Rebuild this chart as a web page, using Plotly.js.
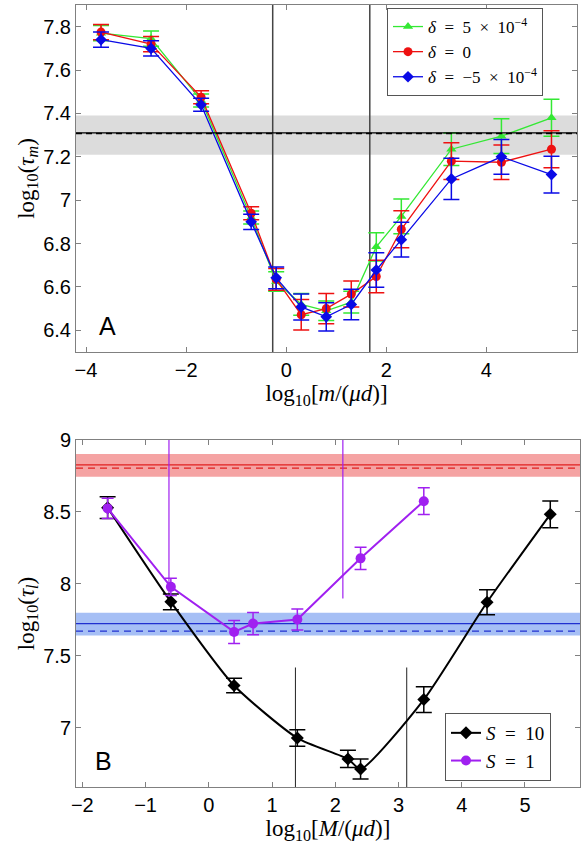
<!DOCTYPE html>
<html>
<head>
<meta charset="utf-8">
<script src="https://cdn.plot.ly/plotly-3.0.1.min.js"></script>
<style>html,body{margin:0;padding:0;background:#fff;}#plot{width:586px;height:848px;}</style>
</head>
<body>
<div id="plot"></div>
<script>
// ---------- Panel A data ----------
const xA = [-3.7, -2.7, -1.7, -0.7, -0.2, 0.3, 0.8, 1.3, 1.8, 2.3, 3.3, 4.3, 5.3];
const greenA = [7.77, 7.745, 7.46, 6.92, 6.625, 6.52, 6.49, 6.53, 6.785, 6.925, 7.235, 7.295, 7.38];
const greenErrA = [0.035, 0.035, 0.03, 0.03, 0.045, 0.05, 0.045, 0.05, 0.065, 0.08, 0.075, 0.08, 0.085];
const redA = [7.775, 7.72, 7.475, 6.94, 6.635, 6.472, 6.50, 6.567, 6.648, 6.866, 7.18, 7.175, 7.235];
const redErrA = [0.035, 0.035, 0.03, 0.03, 0.05, 0.07, 0.07, 0.06, 0.075, 0.085, 0.085, 0.08, 0.085];
const blueA = [7.74, 7.70, 7.44, 6.90, 6.642, 6.508, 6.462, 6.519, 6.678, 6.818, 7.098, 7.2, 7.118];
const blueErrA = [0.035, 0.035, 0.03, 0.035, 0.05, 0.06, 0.065, 0.07, 0.08, 0.08, 0.095, 0.08, 0.085];
const vlinesA = [-0.27, 1.67];
const meanA = 7.31;
const bandA = [7.21, 7.39];
const namesA = ['<i>δ</i>\u2002=\u20025\u2002×\u200210<sup>−4</sup>', '<i>δ</i>\u2002=\u20020', '<i>δ</i>\u2002=\u2002−5\u2002×\u200210<sup>−4</sup>'];

// ---------- Panel B data ----------
const xB10 = [-1.6, -0.6, 0.4, 1.4, 2.2, 2.4, 3.4, 4.4, 5.4];
const yB10 = [8.53, 7.876, 7.295, 6.93, 6.785, 6.715, 7.197, 7.873, 8.484];
const eB10 = [0.075, 0.055, 0.05, 0.057, 0.06, 0.07, 0.09, 0.087, 0.093];
const xB1 = [-1.6, -0.6, 0.4, 0.7, 1.4, 2.4, 3.4];
const yB1 = [8.525, 7.98, 7.667, 7.725, 7.753, 8.178, 8.575];
const eB1 = [0.07, 0.06, 0.08, 0.077, 0.073, 0.077, 0.093];
const redLineB = 8.827, redDashB = 8.804, redBandB = [8.744, 8.902];
const blueLineB = 7.725, blueDashB = 7.672, blueBandB = [7.642, 7.80];
const purpleVB = [-0.63, 2.12], purpleVSpan = [7.9, 9.0];
const blackVB = [1.37, 3.13], blackVSpan = [6.5, 7.42];
const namesB = ['<i>S</i>\u2002=\u200210', '<i>S</i>\u2002=\u20021'];

const serif = 'Liberation Serif, DejaVu Serif, serif';
const sans = 'Liberation Sans, Arial, sans-serif';

function tr(x, y, err, color, symbol, name, xa, ya, leg, msize, lw, cap, shape) {
  return {
    x: x, y: y, name: name, type: 'scatter', mode: 'lines+markers',
    xaxis: xa, yaxis: ya, legend: leg,
    line: {color: color, width: lw, shape: shape || 'linear', smoothing: 0.6},
    marker: {color: color, symbol: symbol, size: msize},
    error_y: {type: 'data', array: err, visible: true, color: color, thickness: 1.5, width: cap}
  };
}

const data = [
  tr(xA, greenA, greenErrA, '#33e833', 'triangle-up', namesA[0], 'x', 'y', 'legend', 9, 1.3, 8),
  tr(xA, redA, redErrA, '#ee1111', 'circle', namesA[1], 'x', 'y', 'legend', 9, 1.3, 8),
  tr(xA, blueA, blueErrA, '#0a0ae6', 'diamond', namesA[2], 'x', 'y', 'legend', 9, 1.3, 8),
  tr(xB10, yB10, eB10, '#000000', 'diamond', namesB[0], 'x2', 'y2', 'legend2', 10, 2, 8, 'spline'),
  tr(xB1, yB1, eB1, '#a020f0', 'circle', namesB[1], 'x2', 'y2', 'legend2', 10, 2, 6)
];

const shapes = [];
// Panel A
shapes.push({type: 'rect', xref: 'x domain', yref: 'y', x0: 0, x1: 1, y0: bandA[0], y1: bandA[1], fillcolor: '#dcdcdc', line: {width: 0}, layer: 'below'});
shapes.push({type: 'line', xref: 'x domain', yref: 'y', x0: 0, x1: 1, y0: meanA, y1: meanA, line: {color: '#000', width: 1.2}});
shapes.push({type: 'line', xref: 'x domain', yref: 'y', x0: 0, x1: 1, y0: meanA - 0.002, y1: meanA - 0.002, line: {color: '#000', width: 1.5, dash: '6px,4px'}});
vlinesA.forEach(v => shapes.push({type: 'line', xref: 'x', yref: 'y domain', x0: v, x1: v, y0: 0, y1: 1, line: {color: '#444', width: 1.5}, layer: 'below'}));
// Panel B
shapes.push({type: 'rect', xref: 'x2 domain', yref: 'y2', x0: 0, x1: 1, y0: redBandB[0], y1: redBandB[1], fillcolor: '#f5a3a3', line: {width: 0}, layer: 'below'});
shapes.push({type: 'rect', xref: 'x2 domain', yref: 'y2', x0: 0, x1: 1, y0: blueBandB[0], y1: blueBandB[1], fillcolor: '#a6bff5', line: {width: 0}, layer: 'below'});
shapes.push({type: 'line', xref: 'x2 domain', yref: 'y2', x0: 0, x1: 1, y0: redLineB, y1: redLineB, line: {color: '#e02020', width: 1.2}, layer: 'below'});
shapes.push({type: 'line', xref: 'x2 domain', yref: 'y2', x0: 0, x1: 1, y0: redDashB, y1: redDashB, line: {color: '#e02020', width: 1.2, dash: '7px,5px'}, layer: 'below'});
shapes.push({type: 'line', xref: 'x2 domain', yref: 'y2', x0: 0, x1: 1, y0: blueLineB, y1: blueLineB, line: {color: '#2030d0', width: 1.2}, layer: 'below'});
shapes.push({type: 'line', xref: 'x2 domain', yref: 'y2', x0: 0, x1: 1, y0: blueDashB, y1: blueDashB, line: {color: '#2030d0', width: 1.2, dash: '7px,5px'}, layer: 'below'});
purpleVB.forEach(v => shapes.push({type: 'line', xref: 'x2', yref: 'y2', x0: v, x1: v, y0: purpleVSpan[0], y1: purpleVSpan[1], line: {color: '#a020f0', width: 1.2}, layer: 'below'}));
blackVB.forEach(v => shapes.push({type: 'line', xref: 'x2', yref: 'y2', x0: v, x1: v, y0: blackVSpan[0], y1: blackVSpan[1], line: {color: '#222', width: 1}, layer: 'below'}));

const axCommon = {
  showline: true, linecolor: '#808080', linewidth: 1, mirror: 'ticks',
  ticks: 'inside', ticklen: 5, tickcolor: '#808080', showgrid: false, zeroline: false,
  tickfont: {family: sans, size: 20, color: '#000'}
};
const titleFont = {family: serif, size: 23, color: '#000'};

const layout = {
  width: 586, height: 848,
  margin: {l: 0, r: 0, t: 0, b: 0},
  paper_bgcolor: '#fff', plot_bgcolor: '#fff',
  showlegend: true,
  xaxis: Object.assign({}, axCommon, {
    domain: [76/586, 577/586], anchor: 'y', range: [-4.2, 5.81], tick0: -4, dtick: 2,
    title: {text: 'log<sub>10</sub>[<i>m</i>/(<i>μd</i>)]', font: titleFont, standoff: 2}
  }),
  yaxis: Object.assign({}, axCommon, {
    domain: [1 - 352/848, 1 - 5/848], anchor: 'x', range: [6.3, 7.9], tick0: 6.4, dtick: 0.2,
    title: {text: 'log<sub>10</sub>(<i>τ<sub>m</sub></i>)', font: titleFont, standoff: 2}
  }),
  xaxis2: Object.assign({}, axCommon, {
    domain: [76/586, 580/586], anchor: 'y2', range: [-2.1, 5.87], tick0: -2, dtick: 1,
    title: {text: 'log<sub>10</sub>[<i>M</i>/(<i>μd</i>)]', font: titleFont, standoff: 2}
  }),
  yaxis2: Object.assign({}, axCommon, {
    domain: [1 - 787/848, 1 - 440/848], anchor: 'x2', range: [6.59, 9.0], tick0: 7, dtick: 0.5,
    title: {text: 'log<sub>10</sub>(<i>τ<sub>l</sub></i>)', font: titleFont, standoff: 2}
  }),
  legend: {
    x: 387/586, y: 1 - 8/848, xanchor: 'left', yanchor: 'top',
    bgcolor: '#fff', bordercolor: '#555', borderwidth: 1,
    font: {family: serif, size: 17, color: '#000'}, tracegroupgap: 0, itemwidth: 30
  },
  legend2: {
    x: 445/586, y: 1 - 713/848, xanchor: 'left', yanchor: 'top',
    bgcolor: '#fff', bordercolor: '#555', borderwidth: 1,
    font: {family: serif, size: 19, color: '#000'}, tracegroupgap: 0, itemwidth: 30
  },
  shapes: shapes,
  annotations: [
    {text: 'A', xref: 'paper', yref: 'paper', x: 107.5/586, y: 1 - 326/848, xanchor: 'center', yanchor: 'middle', showarrow: false, font: {family: sans, size: 25, color: '#000'}},
    {text: 'B', xref: 'paper', yref: 'paper', x: 103.5/586, y: 1 - 761/848, xanchor: 'center', yanchor: 'middle', showarrow: false, font: {family: sans, size: 25, color: '#000'}}
  ]
};

Plotly.newPlot('plot', data, layout, {displayModeBar: false, staticPlot: true});
</script>
</body>
</html>
